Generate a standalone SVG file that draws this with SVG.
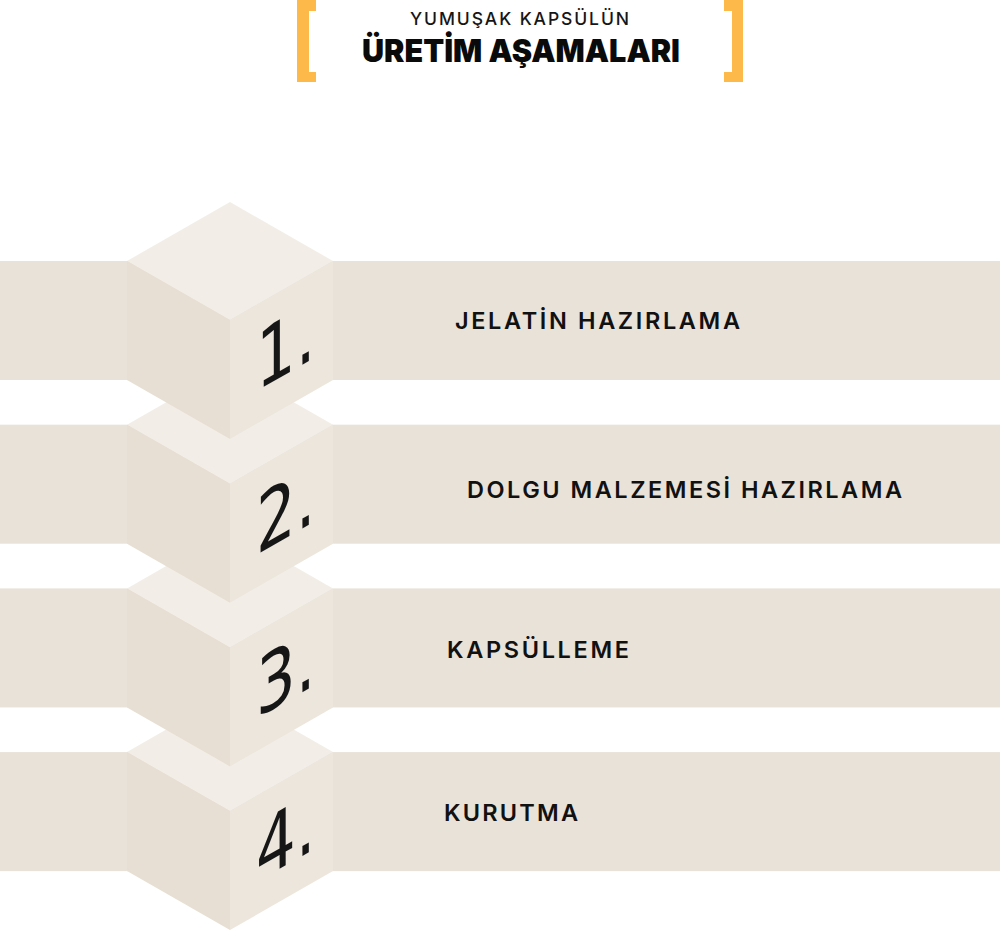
<svg xmlns="http://www.w3.org/2000/svg" width="1000" height="932" viewBox="0 0 1000 932">
<defs>
<style>
.band{fill:#e9e2d8}
.top{fill:#f2eee7}
.left{fill:#e7dfd3}
.right{fill:#ece6dd}
.num{font-family:"DejaVu Sans","Liberation Sans",sans-serif;font-size:80px;fill:#161616}
.lbl{font-family:Inter,"Liberation Sans",sans-serif;font-size:23.5px;font-weight:600;fill:#111111}
.brk{fill:#fdb94a}
</style>
<g id="cube">
<path class="top" d="M230,202 L333,261 L230,320 L127,261 Z"/>
<path class="left" d="M127,261 L230,320 L230,439 L127,380 Z"/>
<path class="right" d="M230,320 L333,261 L333,380 L230,439 Z"/>
</g>
</defs>
<rect width="1000" height="932" fill="#ffffff"/>
<g id="header">
<path class="brk" d="M297,0 H316 V11 H309 V72 H316 V82 H297 Z"/>
<path class="brk" d="M743,0 H724 V11 H732 V72 H724 V82 H743 Z"/>
<text x="410" y="25" textLength="219" lengthAdjust="spacing" style="font-family:Inter,'Liberation Sans',sans-serif;font-size:17.5px;font-weight:500;fill:#161616">YUMUŞAK KAPSÜLÜN</text>
<text x="362" y="62" textLength="318" lengthAdjust="spacingAndGlyphs" style="font-family:Inter,'Liberation Sans',sans-serif;font-size:32px;font-weight:900;fill:#0a0a0a">ÜRETİM AŞAMALARI</text>
</g>
<g id="step4">
<rect class="band" x="0" y="752.1" width="1000" height="119"/>
<use href="#cube" y="491.1"/>
<text class="num" transform="translate(256,882.3) skewY(-29.7) scale(0.78,1)">4.</text>
<text class="lbl" x="444" y="821" textLength="134" lengthAdjust="spacing">KURUTMA</text>
</g>
<g id="step3">
<rect class="band" x="0" y="588.4" width="1000" height="119"/>
<use href="#cube" y="327.4"/>
<text class="num" transform="translate(256,718.6) skewY(-29.7) scale(0.78,1)">3.</text>
<text class="lbl" x="447" y="658" textLength="182" lengthAdjust="spacing">KAPSÜLLEME</text>
</g>
<g id="step2">
<rect class="band" x="0" y="424.7" width="1000" height="119"/>
<use href="#cube" y="163.7"/>
<text class="num" transform="translate(256,554.9) skewY(-29.7) scale(0.78,1)">2.</text>
<text class="lbl" x="467" y="498" textLength="435" lengthAdjust="spacing">DOLGU MALZEMESİ HAZIRLAMA</text>
</g>
<g id="step1">
<rect class="band" x="0" y="261" width="1000" height="119"/>
<use href="#cube"/>
<text class="num" transform="translate(256,391.2) skewY(-29.7) scale(0.78,1)">1.</text>
<text class="lbl" x="455" y="329" textLength="285" lengthAdjust="spacing">JELATİN HAZIRLAMA</text>
</g>
<g id="connectors"/>
</svg>
